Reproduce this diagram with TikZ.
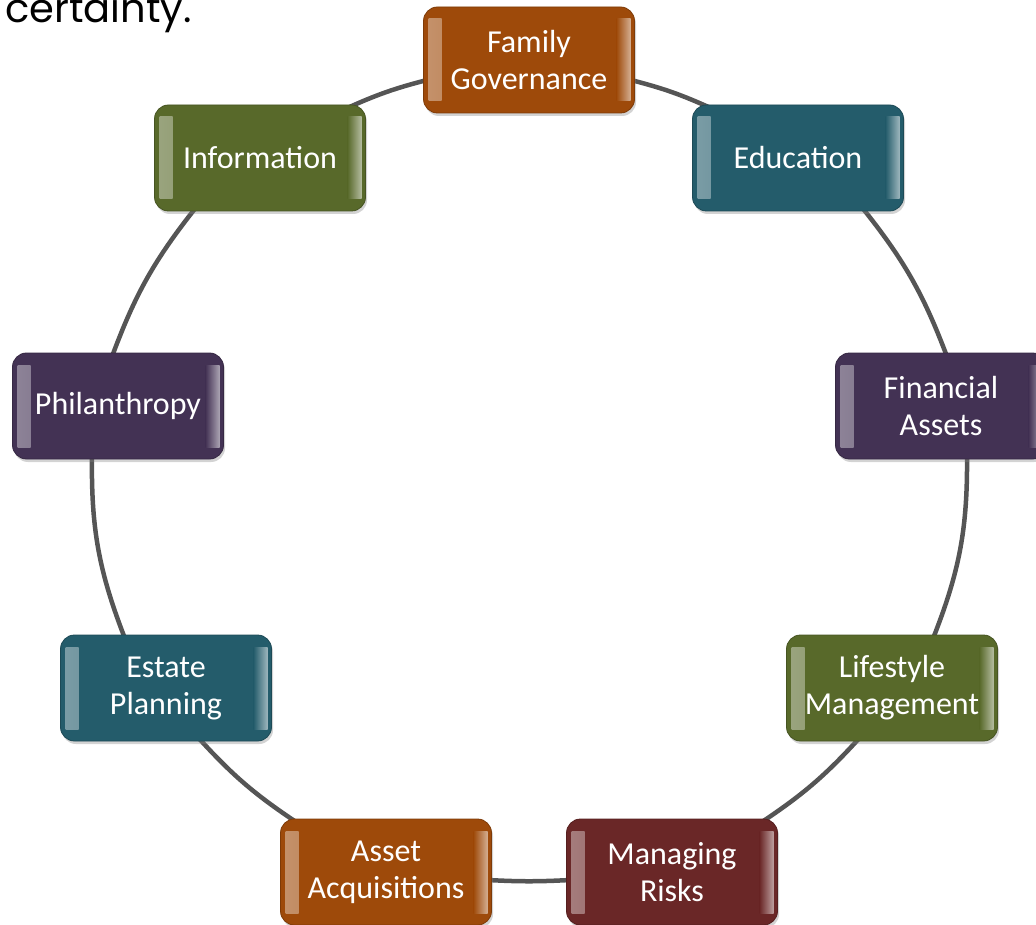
\documentclass[tikz,border=0pt]{standalone}
\usepackage{fontspec}
\setmainfont{Carlito}
\newfontfamily\headfont{Poppins}
\usetikzlibrary{shadows,backgrounds}

\definecolor{rustorange}{RGB}{158,74,10}
\definecolor{tealblue}{RGB}{36,92,107}
\definecolor{plum}{RGB}{67,50,84}
\definecolor{olive}{RGB}{88,105,42}
\definecolor{maroon}{RGB}{106,39,39}
\definecolor{ringgray}{RGB}{85,85,85}

\tikzset{
  ring/.style={draw=ringgray, line width=4.5pt},
  tile/.style={rounded corners=14pt, minimum width=211pt, minimum height=106pt,
    inner sep=0pt, align=center, text=white, font=\fontsize{32}{37}\selectfont,
    fill=#1, draw=#1!80!black, line width=0.8pt,
    drop shadow={opacity=0.35, shadow xshift=1.5pt, shadow yshift=-3pt},
    path picture={
      \shade[draw=none, rounded corners=0pt, left color=#1!60!white, right color=#1]
        ([shift={(5pt,-12pt)}]path picture bounding box.north west) rectangle
        ([shift={(18pt,12pt)}]path picture bounding box.south west);
      \shade[draw=none, rounded corners=0pt, left color=#1, right color=#1!45!white]
        ([shift={(-18pt,-12pt)}]path picture bounding box.north east) rectangle
        ([shift={(-4pt,12pt)}]path picture bounding box.south east);
    }},
}

\begin{document}
\begin{tikzpicture}
  \useasboundingbox (0pt,0pt) rectangle (1036pt,-925pt);
  \clip (0pt,0pt) rectangle (1036pt,-925pt);
  \node[anchor=base west, inner sep=0pt, font=\headfont\fontsize{40}{44}\selectfont] (cap) at (5pt,-23pt) {certainty.};
  \draw (529pt, -60pt)node[tile=rustorange](fam){Family\\Governance};
  \draw (798pt, -158pt)node[tile=tealblue](edu){Education};
  \draw (941pt, -406pt)node[tile=plum](fin){Financial\\Assets};
  \draw (892pt, -688pt)node[tile=olive](life){Lifestyle\\Management};
  \draw (672pt, -872pt)node[tile=maroon](risk){Managing\\Risks};
  \draw (386pt, -872pt)node[tile=rustorange](acq){Asset\\Acquisitions};
  \draw (166pt, -688pt)node[tile=tealblue](est){Estate\\Planning};
  \draw (118pt, -406pt)node[tile=plum](phil){Philanthropy};
  \draw (260pt, -158pt)node[tile=olive](info){Information};
  \begin{scope}[on background layer]
    % ring segments, from box to box, clockwise
    \draw[ring] ([shift={(-4pt,-20pt)}]fam.east) to[bend left=5] ([shift={(-86pt,-4pt)}]edu.north);
    \draw[ring] ([shift={(64pt,4pt)}]edu.south) to[bend left=9] ([shift={(6pt,-4pt)}]fin.north);
    \draw[ring] ([shift={(26pt,4pt)}]fin.south) to[bend left=11] ([shift={(41pt,-4pt)}]life.north);
    \draw[ring] ([shift={(-32pt,4pt)}]life.south) to[bend left=7] ([shift={(89pt,-4pt)}]risk.north);
    \draw[ring] ([shift={(4pt,-8pt)}]risk.west) to[bend left=3] ([shift={(-4pt,-8pt)}]acq.east);
    \draw[ring] ([shift={(-89pt,-4pt)}]acq.north) to[bend left=7] ([shift={(32pt,4pt)}]est.south);
    \draw[ring] ([shift={(-41pt,-4pt)}]est.north) to[bend left=11] ([shift={(-26pt,4pt)}]phil.south);
    \draw[ring] ([shift={(-6pt,-4pt)}]phil.north) to[bend left=9] ([shift={(-64pt,4pt)}]info.south);
    \draw[ring] ([shift={(86pt,-4pt)}]info.north) to[bend left=5] ([shift={(4pt,-20pt)}]fam.west);
  \end{scope}
\end{tikzpicture}
\end{document}
